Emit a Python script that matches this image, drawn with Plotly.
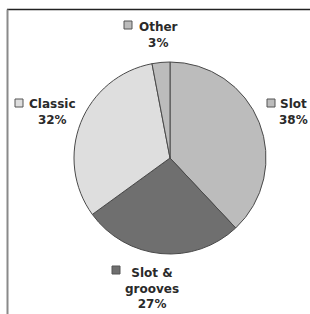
import plotly.graph_objects as go

labels = ["Slot", "Slot &<br>grooves", "Classic", "Other"]
values = [38, 27, 32, 3]
colors = ["#bcbcbc", "#6f6f6f", "#dedede", "#bcbcbc"]

W, H = 310, 314
cx, cy, r = 170, 158, 96

fig = go.Figure(go.Pie(
    labels=labels, values=values, sort=False, direction="clockwise", rotation=0,
    marker=dict(colors=colors, line=dict(color="#4a4a4a", width=1)),
    textinfo="none", hoverinfo="label+percent", showlegend=False,
    domain=dict(x=[(cx - r) / W, (cx + r) / W], y=[(H - cy - r) / H, (H - cy + r) / H]),
))

# label placements (pixel positions of text centre, square centre)
label_pos = [
    (293, 112, 271, 103),   # Slot
    (152, 288, 116, 270),   # Slot & grooves
    (52, 112, 19, 103),     # Classic
    (158, 35, 128, 25),     # Other
]

annotations = []
shapes = []
for lab, val, col, (tx, ty, sx, sy) in zip(labels, values, colors, label_pos):
    txt = f"{lab}<br>{val}%"
    annotations.append(dict(
        x=tx / W, y=1 - ty / H, xref="paper", yref="paper", showarrow=False,
        text=txt, align="center", xanchor="center", yanchor="middle",
        font=dict(family="DejaVu Sans", size=12, color="#2a2a2a", weight="bold"),
    ))
    shapes.append(dict(
        type="rect", xref="paper", yref="paper",
        x0=(sx - 4) / W, x1=(sx + 4) / W, y0=1 - (sy + 4) / H, y1=1 - (sy - 4) / H,
        fillcolor=col, line=dict(color="#555555", width=1),
    ))

# frame lines
shapes.append(dict(type="line", xref="paper", yref="paper", x0=7 / W, x1=1, y0=1 - 9.5 / H, y1=1 - 9.5 / H,
                   line=dict(color="#222222", width=1.5)))
shapes.append(dict(type="line", xref="paper", yref="paper", x0=7.5 / W, x1=7.5 / W, y0=0, y1=1 - 9.5 / H,
                   line=dict(color="#8a8a8a", width=2)))

fig.update_layout(
    width=W, height=H, margin=dict(l=0, r=0, t=0, b=0),
    paper_bgcolor="white", plot_bgcolor="white",
    annotations=annotations, shapes=shapes,
)

fig.write_html("out.html", config={"displayModeBar": False},
               post_script="document.body.style.margin='0';document.body.style.overflow='hidden';")
